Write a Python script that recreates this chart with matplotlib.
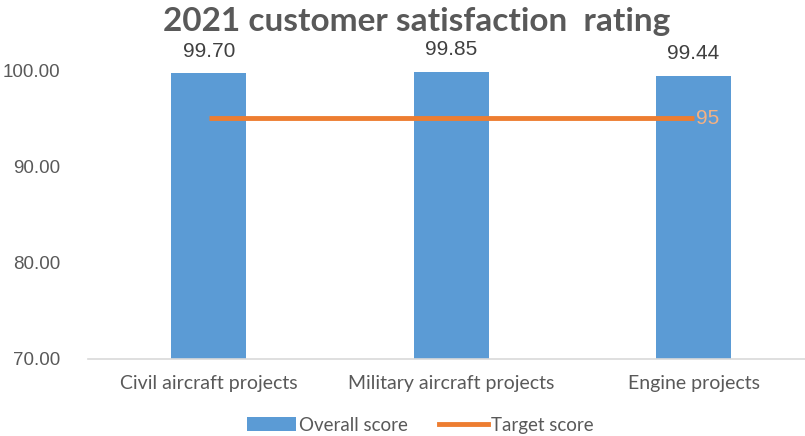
import matplotlib.pyplot as plt
from matplotlib.lines import Line2D
from matplotlib.patches import Patch
import numpy as np

categories = ["Civil aircraft projects", "Military aircraft projects", "Engine projects"]
overall = [99.70, 99.85, 99.44]
target = [95, 95, 95]
yticks = [70, 80, 90, 100]

bar_color = "#5B9BD5"
line_color = "#ED7D31"
grey = "#595959"

fig = plt.figure(figsize=(8.05, 4.36), dpi=100)
ax = fig.add_axes([0.109, 0.177, 0.891, 0.662])

x = np.arange(len(categories))
ax.bar(x, overall, width=0.31, color=bar_color, zorder=2)
ax.plot(x, target, color=line_color, linewidth=3.5, zorder=3, solid_capstyle="butt")

for xi, v in zip(x, overall):
    ax.text(xi, v + 1.3, f"{v:.2f}", ha="center", va="bottom", fontsize=15,
            color="#404040", family="Liberation Sans")
ax.text(x[-1] + 0.01, target[-1], f"{target[-1]}", ha="left", va="center",
        fontsize=15, color="#F4B183", family="Liberation Sans")

ax.set_xlim(-0.5, len(categories) - 0.5 - 0.04)
ax.set_ylim(70, 100)
ax.set_yticks(yticks)
ax.set_yticklabels([f"{t:.2f}" for t in yticks], family="Liberation Sans", fontsize=13.5, color=grey)
ax.set_xticks(x)
ax.set_xticklabels(categories, family="Lato", fontsize=14, color=grey)
ax.tick_params(axis="both", length=0)
ax.tick_params(axis="y", pad=20)
ax.tick_params(axis="x", pad=12)

for s in ["top", "right", "left"]:
    ax.spines[s].set_visible(False)
ax.spines["bottom"].set_color("#D9D9D9")
ax.spines["bottom"].set_linewidth(1.2)

fig.text(0.518, 0.95, "2021 customer satisfaction  rating", ha="center", va="center",
         fontsize=24, fontweight="bold", color=grey, family="Lato")

handles = [Patch(facecolor=bar_color, label="Overall score"),
           Line2D([0], [0], color=line_color, linewidth=3.5, label="Target score")]
fig.legend(handles=handles, loc="center", bbox_to_anchor=(0.522, 0.025), ncol=2,
           frameon=False, prop={"family": "Lato", "size": 13.5}, labelcolor=grey,
           handlelength=2.6, handletextpad=0.15, columnspacing=1.7)

fig.savefig("out.png", dpi=100)
